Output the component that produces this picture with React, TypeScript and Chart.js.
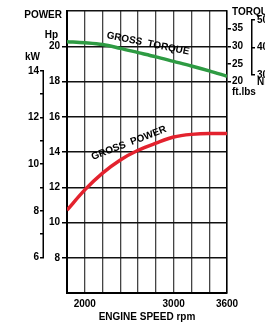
import React, { useEffect, useRef } from "react";
import { Chart, registerables } from "chart.js";

Chart.register(...registerables);

// ---- data ----
const rpm = [1800, 2000, 2200, 2400, 2600, 2800, 3000, 3200, 3400, 3600];
const powerHp = [10.7, 11.85, 12.8, 13.55, 14.1, 14.5, 14.85, 15.0, 15.05, 15.05];
const torqueFtLbs = [31.3, 31.0, 30.5, 29.4, 28.2, 27.0, 25.7, 24.4, 23.0, 21.5];

const rpmLabels = [2000, 3000, 3600];
const hpTicks = [8, 10, 12, 14, 16, 18, 20];
const kwTicks = [6, 7, 8, 9, 10, 11, 12, 13, 14];
const kwLabels = [6, 8, 10, 12, 14];
const ftLbsTicks = [20, 25, 30, 35];
const nmTicks = [30, 40, 50];

const FONT = "'Liberation Sans', Arial, Helvetica, sans-serif";
const tickFont = { family: FONT, size: 10, weight: "bold" as const };

const extras = {
  id: "extras",
  afterDraw(chart: any) {
    const ctx = chart.ctx;
    const { yKW, yNm, x, yHp } = chart.scales;
    ctx.save();
    ctx.strokeStyle = "#000";
    ctx.lineWidth = 1.5;
    ctx.beginPath();
    ctx.moveTo(yKW.right - 0.75, yKW.getPixelForValue(14));
    ctx.lineTo(yKW.right - 0.75, yKW.getPixelForValue(6));
    ctx.stroke();
    ctx.beginPath();
    ctx.moveTo(yNm.left + 0.75, yNm.getPixelForValue(50));
    ctx.lineTo(yNm.left + 0.75, yNm.getPixelForValue(30));
    ctx.stroke();

    ctx.fillStyle = "#000";
    ctx.font = `bold 10px ${FONT}`;
    ctx.textBaseline = "middle";
    ctx.textAlign = "right";
    ctx.fillText("POWER", 62, 15);
    ctx.fillText("Hp", 58, 35);
    ctx.textAlign = "left";
    ctx.fillText("kW", 25, 57);
    ctx.fillText("TORQUE", 232, 12);
    ctx.fillText("ft.lbs", 232, 92);
    ctx.fillText("Nm", 257, 82);

    ctx.textAlign = "center";
    ctx.save();
    ctx.translate(x.getPixelForValue(2711), yHp.getPixelForValue(20.15));
    ctx.rotate((11.5 * Math.PI) / 180);
    ctx.fillText("GROSS  TORQUE", 0, 0);
    ctx.restore();
    ctx.save();
    ctx.translate(x.getPixelForValue(2497), yHp.getPixelForValue(14.5));
    ctx.rotate((-21 * Math.PI) / 180);
    ctx.fillText("GROSS  POWER", 0, 0);
    ctx.restore();
    ctx.restore();
  },
};

export default function App() {
  const ref = useRef<HTMLCanvasElement>(null);
  useEffect(() => {
    if (!ref.current) return;
    const chart = new Chart(ref.current, {
      type: "line",
      data: {
        datasets: [
          {
            label: "Gross Power",
            data: rpm.map((r, i) => ({ x: r, y: powerHp[i] })),
            borderColor: "#e3222e",
            borderWidth: 3.5,
            pointRadius: 0,
            cubicInterpolationMode: "monotone",
            xAxisID: "x",
            yAxisID: "yHp",
          },
          {
            label: "Gross Torque",
            data: rpm.map((r, i) => ({ x: r, y: torqueFtLbs[i] })),
            borderColor: "#2e9b43",
            borderWidth: 3.5,
            pointRadius: 0,
            cubicInterpolationMode: "monotone",
            xAxisID: "x",
            yAxisID: "yT",
          },
        ],
      },
      options: {
        responsive: false,
        animation: false,
        devicePixelRatio: 1,
        layout: { padding: { top: 11, left: 0, right: 0, bottom: 0 } },
        plugins: { legend: { display: false }, tooltip: { enabled: false } },
        scales: {
          x: {
            type: "linear",
            position: "bottom",
            min: 1800,
            max: 3600,
            ticks: {
              stepSize: 200,
              autoSkip: false,
              maxRotation: 0,
              padding: 5,
              color: "#000",
              font: tickFont,
              callback: (v: any) => (rpmLabels.includes(v) ? String(v) : ""),
            },
            grid: { color: "#444", lineWidth: 1.3, drawTicks: false },
            border: { color: "#000", width: 2 },
            title: {
              display: true,
              text: "ENGINE SPEED rpm",
              color: "#000",
              font: tickFont,
              padding: 0,
            },
            afterFit: (s: any) => {
              s.height = 30;
            },
          },
          yHp: {
            type: "linear",
            position: "left",
            weight: 0,
            min: 6,
            max: 22,
            ticks: {
              stepSize: 2,
              autoSkip: false,
              padding: 2,
              color: "#000",
              font: tickFont,
              callback: (v: any) => (hpTicks.includes(v) ? String(v) : ""),
            },
            grid: {
              color: "#111",
              lineWidth: 1.5,
              tickLength: 5,
              tickWidth: 1.5,
              tickColor: (c: any) =>
                c.tick && hpTicks.includes(c.tick.value) ? "#000" : "rgba(0,0,0,0)",
            },
            border: { color: "#000", width: 2 },
            afterFit: (s: any) => {
              s.width = 23;
            },
          },
          yKW: {
            type: "linear",
            position: "left",
            weight: 1,
            min: 4.48,
            max: 16.56,
            afterBuildTicks: (s: any) => {
              s.ticks = kwTicks.map((v) => ({ value: v }));
            },
            ticks: {
              autoSkip: false,
              padding: 1,
              color: "#000",
              font: tickFont,
              callback: (v: any) => (kwLabels.includes(v) ? String(v) : ""),
            },
            grid: { drawOnChartArea: false, tickLength: 4, color: "#000", lineWidth: 1.5 },
            border: { display: false },
            afterFit: (s: any) => {
              s.width = 44;
            },
          },
          yT: {
            type: "linear",
            position: "right",
            weight: 0,
            min: -40,
            max: 40,
            afterBuildTicks: (s: any) => {
              s.ticks = ftLbsTicks.map((v) => ({ value: v }));
            },
            ticks: {
              autoSkip: false,
              padding: 1,
              color: "#000",
              font: tickFont,
              callback: (v: any) => String(v),
            },
            grid: { drawOnChartArea: false, tickLength: 4, color: "#000", lineWidth: 1.5 },
            border: { color: "#000", width: 1.5 },
            afterFit: (s: any) => {
              s.width = 24;
            },
          },
          yNm: {
            type: "linear",
            position: "right",
            weight: 1,
            min: -49.3,
            max: 53.3,
            afterBuildTicks: (s: any) => {
              s.ticks = nmTicks.map((v) => ({ value: v }));
            },
            ticks: {
              autoSkip: false,
              padding: 2,
              color: "#000",
              font: tickFont,
              callback: (v: any) => String(v),
            },
            grid: { drawOnChartArea: false, tickLength: 4, color: "#000", lineWidth: 1.5 },
            border: { display: false },
            afterFit: (s: any) => {
              s.width = 41;
            },
          },
        },
      } as any,
      plugins: [extras],
    });
    return () => chart.destroy();
  }, []);

  return (
    <div
      style={{
        position: "absolute",
        left: 0,
        top: 0,
        width: 265,
        height: 323,
        overflow: "hidden",
        background: "#fff",
      }}
    >
      <canvas ref={ref} width={292} height={323} style={{ display: "block" }} />
    </div>
  );
}
